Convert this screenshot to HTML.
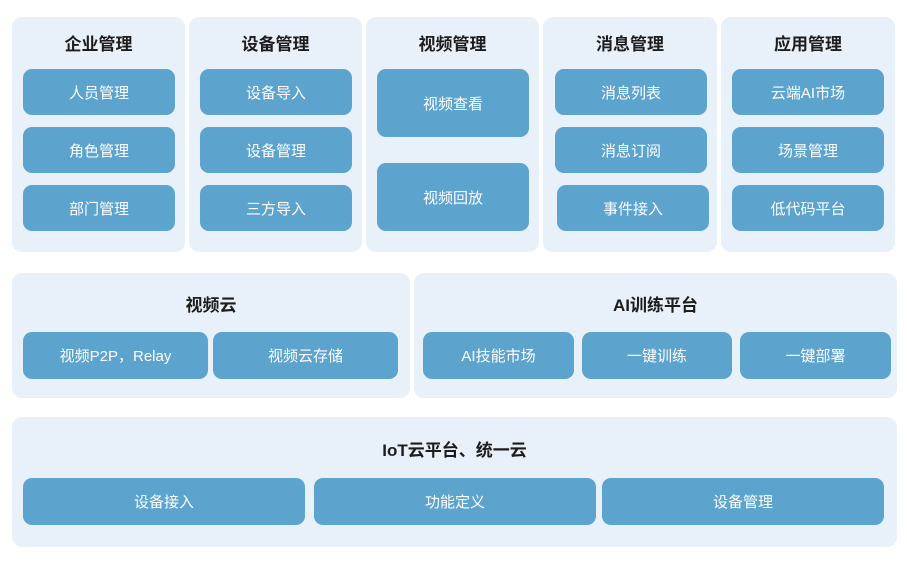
<!DOCTYPE html>
<html><head><meta charset="utf-8"><style>
body{margin:0;width:907px;height:564px;background:#fff;position:relative;overflow:hidden;font-family:"Liberation Sans","Noto Sans CJK SC",sans-serif}
.p{position:absolute;background:#e8f0f9;border-radius:10px}
.t{position:absolute;font-weight:bold;font-size:17px;color:#1d1d1d;text-align:center;line-height:20px}
.b{position:absolute;background:#5ca3ce;border-radius:9px;color:#fff;font-size:15px;display:flex;align-items:center;justify-content:center}
</style></head><body>
<div class="p" style="left:12px;top:17px;width:173px;height:235px"></div>
<div class="p" style="left:189px;top:17px;width:173px;height:235px"></div>
<div class="p" style="left:366px;top:17px;width:173px;height:235px"></div>
<div class="p" style="left:543px;top:17px;width:174px;height:235px"></div>
<div class="p" style="left:721px;top:17px;width:174px;height:235px"></div>
<div class="t" style="left:12px;top:35px;width:173px">企业管理</div>
<div class="t" style="left:189px;top:35px;width:173px">设备管理</div>
<div class="t" style="left:366px;top:35px;width:173px">视频管理</div>
<div class="t" style="left:543px;top:35px;width:174px">消息管理</div>
<div class="t" style="left:721px;top:35px;width:174px">应用管理</div>
<div class="b" style="left:23px;top:69px;width:152px;height:46px">人员管理</div>
<div class="b" style="left:23px;top:127px;width:152px;height:46px">角色管理</div>
<div class="b" style="left:23px;top:185px;width:152px;height:46px">部门管理</div>
<div class="b" style="left:200px;top:69px;width:152px;height:46px">设备导入</div>
<div class="b" style="left:200px;top:127px;width:152px;height:46px">设备管理</div>
<div class="b" style="left:200px;top:185px;width:152px;height:46px">三方导入</div>
<div class="b" style="left:377px;top:69px;width:152px;height:68px">视频查看</div>
<div class="b" style="left:377px;top:163px;width:152px;height:68px">视频回放</div>
<div class="b" style="left:555px;top:69px;width:152px;height:46px">消息列表</div>
<div class="b" style="left:555px;top:127px;width:152px;height:46px">消息订阅</div>
<div class="b" style="left:557px;top:185px;width:152px;height:46px">事件接入</div>
<div class="b" style="left:732px;top:69px;width:152px;height:46px">云端AI市场</div>
<div class="b" style="left:732px;top:127px;width:152px;height:46px">场景管理</div>
<div class="b" style="left:732px;top:185px;width:152px;height:46px">低代码平台</div>

<div class="p" style="left:12px;top:273px;width:398px;height:125px"></div>
<div class="p" style="left:414px;top:273px;width:483px;height:125px"></div>
<div class="t" style="left:12px;top:296px;width:398px">视频云</div>
<div class="t" style="left:414px;top:296px;width:483px">AI训练平台</div>
<div class="b" style="left:23px;top:332px;width:185px;height:47px">视频P2P，Relay</div>
<div class="b" style="left:213px;top:332px;width:185px;height:47px">视频云存储</div>
<div class="b" style="left:423px;top:332px;width:151px;height:47px">AI技能市场</div>
<div class="b" style="left:582px;top:332px;width:150px;height:47px">一键训练</div>
<div class="b" style="left:740px;top:332px;width:151px;height:47px">一键部署</div>

<div class="p" style="left:12px;top:417px;width:885px;height:130px"></div>
<div class="t" style="left:12px;top:441px;width:885px">IoT云平台、统一云</div>
<div class="b" style="left:23px;top:478px;width:282px;height:47px">设备接入</div>
<div class="b" style="left:314px;top:478px;width:282px;height:47px">功能定义</div>
<div class="b" style="left:602px;top:478px;width:282px;height:47px">设备管理</div>
</body></html>
